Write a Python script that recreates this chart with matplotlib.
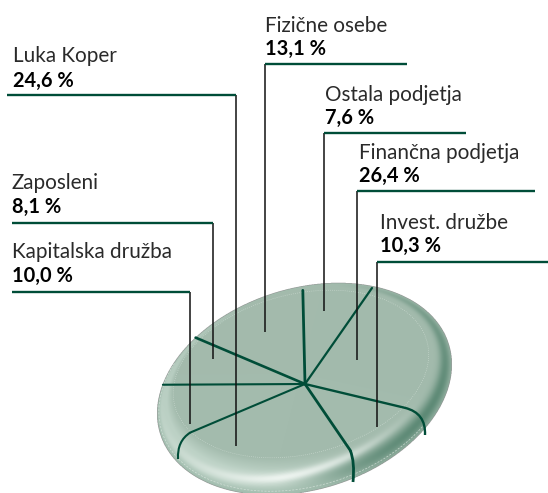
import matplotlib
matplotlib.use('Agg')
import matplotlib.pyplot as plt
import numpy as np
from matplotlib.patches import PathPatch
from matplotlib.path import Path

# slices clockwise, starting at the spoke at the top right
names = ['Finančna podjetja', 'Invest. družbe', 'Luka Koper', 'Kapitalska družba',
         'Zaposleni', 'Fizične osebe', 'Ostala podjetja']
shares = [26.4, 10.3, 24.6, 10.0, 8.1, 13.1, 7.6]

# layout: label x, name baseline, percent baseline, line y, line x0, x1, leader x, leader end y
label_x = [359, 380, 13, 12, 12, 265, 325]
name_y = [159, 229, 62, 258, 189, 32, 101]
pct_y = [182, 252, 87, 282, 213, 55, 124]
line_y = [190.5, 261.5, 94.5, 291.5, 222.5, 63.5, 132.5]
line_x0 = [357, 377, 7, 12, 12, 265, 324]
line_x1 = [535, 548, 236, 190, 213, 407, 466]
lead_x = [356.5, 377, 235.5, 190, 213, 265, 324]
lead_end = [360, 427, 446, 424, 359, 332, 310.5]

GREEN = '#004d38'

# disc: affine image of a circle
centre = np.array([305.0, 384.0])
P = np.array([67.0, -96.0])
Q = np.array([134.5, 22.4])
M1 = np.column_stack([P, Q])


def ell(s):
    # s=0 flat top edge, s=1 outer silhouette
    c = np.array([301.0, 374.0]) * (1 - s) + np.array([304.5, 389.0]) * s
    M = (0.85 * M1) * (1 - s) + (np.diag([0.98, 1.075]) @ M1) * s
    return c, M


fig = plt.figure(figsize=(5.48, 4.93), dpi=100)
ax = fig.add_axes([0, 0, 1, 1])
ax.axis('off')

# rim shading
ss = 3
xs = (np.arange(548 * ss) + 0.5) / ss
ys = (np.arange(493 * ss) + 0.5) / ss
X, Y = np.meshgrid(xs, ys)
S = np.full(X.shape, np.nan)
PHI = np.zeros(X.shape)
for s in np.linspace(1, 0, 101):
    c, M = ell(s)
    inv = np.linalg.inv(M)
    u = inv[0, 0] * (X - c[0]) + inv[0, 1] * (Y - c[1])
    v = inv[1, 0] * (X - c[0]) + inv[1, 1] * (Y - c[1])
    mask = u ** 2 + v ** 2 <= 1
    S[mask] = s
    PHI[mask] = np.arctan2(Y - c[1], X - c[0])[mask]

flat = np.array([0xa3, 0xbb, 0xad]) / 255
pale = np.array([0xbd, 0xd2, 0xc6]) / 255
light = np.array([0xf0, 0xf6, 0xf2]) / 255
dark = np.array([0x5e, 0x8a, 0x76]) / 255
mid = np.array([0xa0, 0xbc, 0xad]) / 255

pale_p = np.clip(np.cos(PHI - np.radians(140)), 0, 1) ** 0.8
lit_p = np.clip(np.cos(PHI - np.radians(90)), 0, 1) ** 2
dark_p = np.clip(np.cos(PHI - np.radians(15)), 0, 1) ** 1.5
s0 = 0.5 - 0.2 * np.cos(PHI)
streak = np.exp(-((S - s0) / 0.14) ** 2)
dark_band = np.exp(-((S - 0.72) / 0.26) ** 2)
edge = np.clip(S / 0.4, 0, 1)
outer = np.clip((S - 0.75) / 0.25, 0, 1)
img = np.zeros(X.shape + (4,))
for i in range(3):
    col = flat[i] + edge * pale_p * (pale[i] - flat[i])
    col = col + outer * (1 - dark_p) * (mid[i] - col)
    col = col + streak * lit_p * (light[i] - col)
    col = col + dark_band * dark_p * (dark[i] - col)
    img[..., i] = col
img[..., 3] = np.where(np.isnan(S), 0, 1)
img[np.isnan(img)] = 0
ax.imshow(img, extent=(0, 548, 493, 0), interpolation='bilinear', aspect='auto', zorder=1)
ax.set_xlim(0, 548)
ax.set_ylim(493, 0)

# dotted lines: round the flat top, and on the lower rim
t = np.linspace(0, 2 * np.pi, 300)
c0, M0 = ell(0)
ring = c0[:, None] + M0 @ np.vstack([np.cos(t), np.sin(t)])
ax.plot(ring[0], ring[1], color='#dbe6df', lw=0.5, alpha=0.8, ls=(0, (1, 2)), zorder=2)
c9, M9 = ell(0.9)
ring = c9[:, None] + M9 @ np.vstack([np.cos(t), np.sin(t)])
low = (ring[1] - c9[1]) > 5 + 0.25 * (ring[0] - c9[0])
ax.plot(ring[0][low], ring[1][low], color='#dbe6df', lw=0.5, alpha=0.8, ls=(0, (3, 2)), zorder=2)

# spokes between the slices, angles follow the shares
cum = np.concatenate([[0], np.cumsum(shares)[:-1]])
angles = cum / np.sum(shares) * 2 * np.pi
# spokes that run on over the front rim: share of the way, curve control, curve end
front = {1: (0.78, (426, 413), (425, 435)), 2: (0.82, (355, 462), (353, 482)), 3: (0.83, (177, 441), (178, 459))}
rim_f = {0: 1.0, 4: 0.97, 5: 0.98, 6: 0.98}
spoke_w = [1.6, 1.7, 2.0, 1.5, 1.5, 1.9, 2.0]
for i, a in enumerate(angles):
    d = np.cos(a) * P + np.sin(a) * Q
    if i in front:
        f, ctrl, end = front[i]
        p0 = centre + f * d
        ax.plot([centre[0], p0[0]], [centre[1], p0[1]], color=GREEN, lw=spoke_w[i], zorder=3, solid_capstyle='round')
        path = Path([p0, ctrl, end], [Path.MOVETO, Path.CURVE3, Path.CURVE3])
        ax.add_patch(PathPatch(path, fc='none', ec=GREEN, lw=spoke_w[i], zorder=3))
    else:
        p0 = centre + rim_f[i] * d
        ax.plot([centre[0], p0[0]], [centre[1], p0[1]], color=GREEN, lw=spoke_w[i], zorder=3, solid_capstyle='round')

# leaders and labels
for i, name in enumerate(names):
    ax.plot([lead_x[i], lead_x[i]], [line_y[i], lead_end[i]], color='#111111', lw=1.1, zorder=4, solid_capstyle='butt')
    ax.plot([line_x0[i], line_x1[i]], [line_y[i], line_y[i]], color=GREEN, lw=1.7, zorder=5, solid_capstyle='butt')
    ax.text(label_x[i], name_y[i], name, fontsize=14.9, family='Lato', color='#2a2a2a', va='baseline', ha='left')
    pct = f'{shares[i]:.1f}'.replace('.', ',') + ' %'
    ax.text(label_x[i], pct_y[i], pct, fontsize=14.4, family='Lato', weight='bold', color='#000000', va='baseline', ha='left')

fig.savefig('out.png', dpi=100)
